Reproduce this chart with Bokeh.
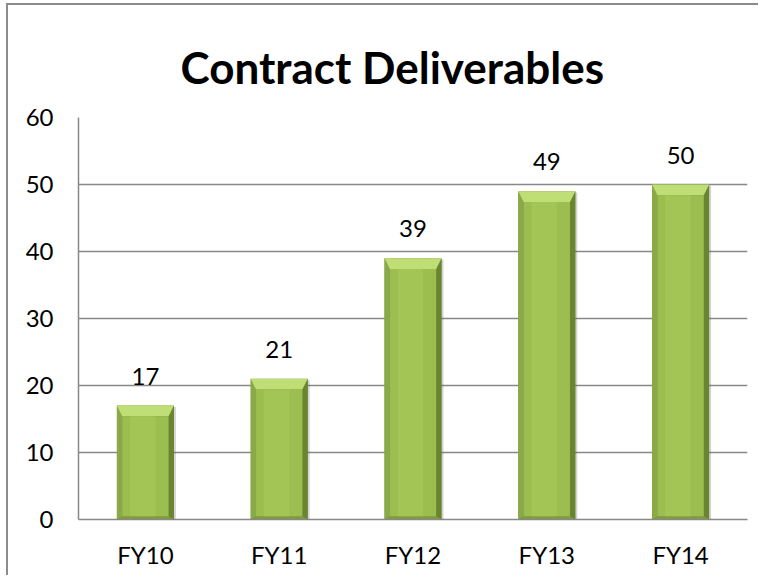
from bokeh.plotting import figure
from bokeh.models import FixedTicker, ColumnDataSource
from bokeh.embed import file_html
from bokeh.resources import INLINE
from bokeh.core.properties import value

# ---- data ----
categories = ["FY10", "FY11", "FY12", "FY13", "FY14"]
deliverables = [17, 21, 39, 49, 50]
y_ticks = [0, 10, 20, 30, 40, 50, 60]
title_text = "Contract Deliverables"

centers = [i + 0.5 for i in range(len(categories))]

W, H = 758, 575
p = figure(width=W, height=H, output_backend="svg", toolbar_location=None,
           x_range=(0, len(categories)), y_range=(0, 60),
           min_border_left=78, min_border_right=11, min_border_bottom=56,
           min_border_top=117, title=title_text)
p.outline_line_color = None
p.background_fill_color = "white"
p.border_fill_color = None
# outer chart border (only top/left edges visible in the crop), drawn as CSS background
p.styles = {
    "background": ("linear-gradient(#8c8c8c,#8c8c8c) 6px 3px / 2px 100% no-repeat, "
                   "linear-gradient(#8c8c8c,#8c8c8c) 6px 3px / 100% 2px no-repeat, white"),
}

p.title.align = "left"
p.title.text_font = "Lato"
p.title.text_font_style = "bold"
p.title.text_font_size = "44px"
p.title.text_color = "black"
p.title.standoff = 49
p.title.offset = 102

# axes
p.xaxis.ticker = FixedTicker(ticks=centers)
p.xaxis.major_label_overrides = {c: lab for c, lab in zip(centers, categories)}
p.yaxis.ticker = FixedTicker(ticks=y_ticks)
for ax in (p.xaxis, p.yaxis):
    ax.axis_line_color = "#888888"
    ax.axis_line_width = 1.5
    ax.major_tick_line_color = None
    ax.minor_tick_line_color = None
    ax.major_label_text_font = "Lato"
    ax.major_label_text_font_size = "24px"
    ax.major_label_text_color = "black"
p.yaxis.major_label_standoff = 19
p.xaxis.major_label_standoff = 14
p.xgrid.grid_line_color = None
p.ygrid.grid_line_color = "#888888"
p.ygrid.grid_line_width = 1.5

# bars with bevel effect
h = 0.213
sx = 0.04
sy_top = 1.6
sy_bot = 0.5
base = ColumnDataSource(dict(x=centers, top=deliverables))
# shadow
p.vbar(x=[c + 0.01 for c in centers], bottom=-0.4, top=[v - 0.2 for v in deliverables],
       width=2 * h + 0.01, fill_color="#555555", fill_alpha=0.25, line_color=None)
p.vbar(x="x", top="top", bottom=0, width=2 * h, source=base,
       fill_color="#76923c", line_color=None)

top_xs, top_ys, l_xs, l_ys, r_xs, r_ys, b_xs, b_ys = [], [], [], [], [], [], [], []
for c, v in zip(centers, deliverables):
    top_xs.append([c - h, c + h, c + h - sx, c - h + sx])
    top_ys.append([v, v, v - sy_top, v - sy_top])
    l_xs.append([c - h, c - h + sx, c - h + sx, c - h])
    l_ys.append([v, v - sy_top, sy_bot, 0])
    r_xs.append([c + h, c + h - sx, c + h - sx, c + h])
    r_ys.append([v, v - sy_top, sy_bot, 0])
    b_xs.append([c - h, c + h, c + h - sx, c - h + sx])
    b_ys.append([0, 0, sy_bot, sy_bot])

p.patches(l_xs, l_ys, fill_color="#8aa947", line_color=None)
p.patches(r_xs, r_ys, fill_color="#6a8530", line_color=None)
p.patches(b_xs, b_ys, fill_color="#7f9d3b", line_color=None)
p.patches(top_xs, top_ys, fill_color="#c0de76", line_color=None)
p.vbar(x=centers, top=[v - sy_top for v in deliverables], bottom=sy_bot,
       width=2 * (h - sx), fill_color="#9cbe50", line_color=None)
p.vbar(x=[c - 0.02 for c in centers], top=[v - sy_top for v in deliverables], bottom=sy_bot,
       width=(h - sx) * 1.1, fill_color="#a5c758", fill_alpha=0.7, line_color=None)

# data labels
p.text(x=centers, y=deliverables, text=[str(v) for v in deliverables],
       text_align="center", text_baseline="bottom", y_offset=-21,
       text_font=value("Lato"), text_font_size="24px", text_color="black")

open("out.html", "w").write(file_html(p, INLINE))
